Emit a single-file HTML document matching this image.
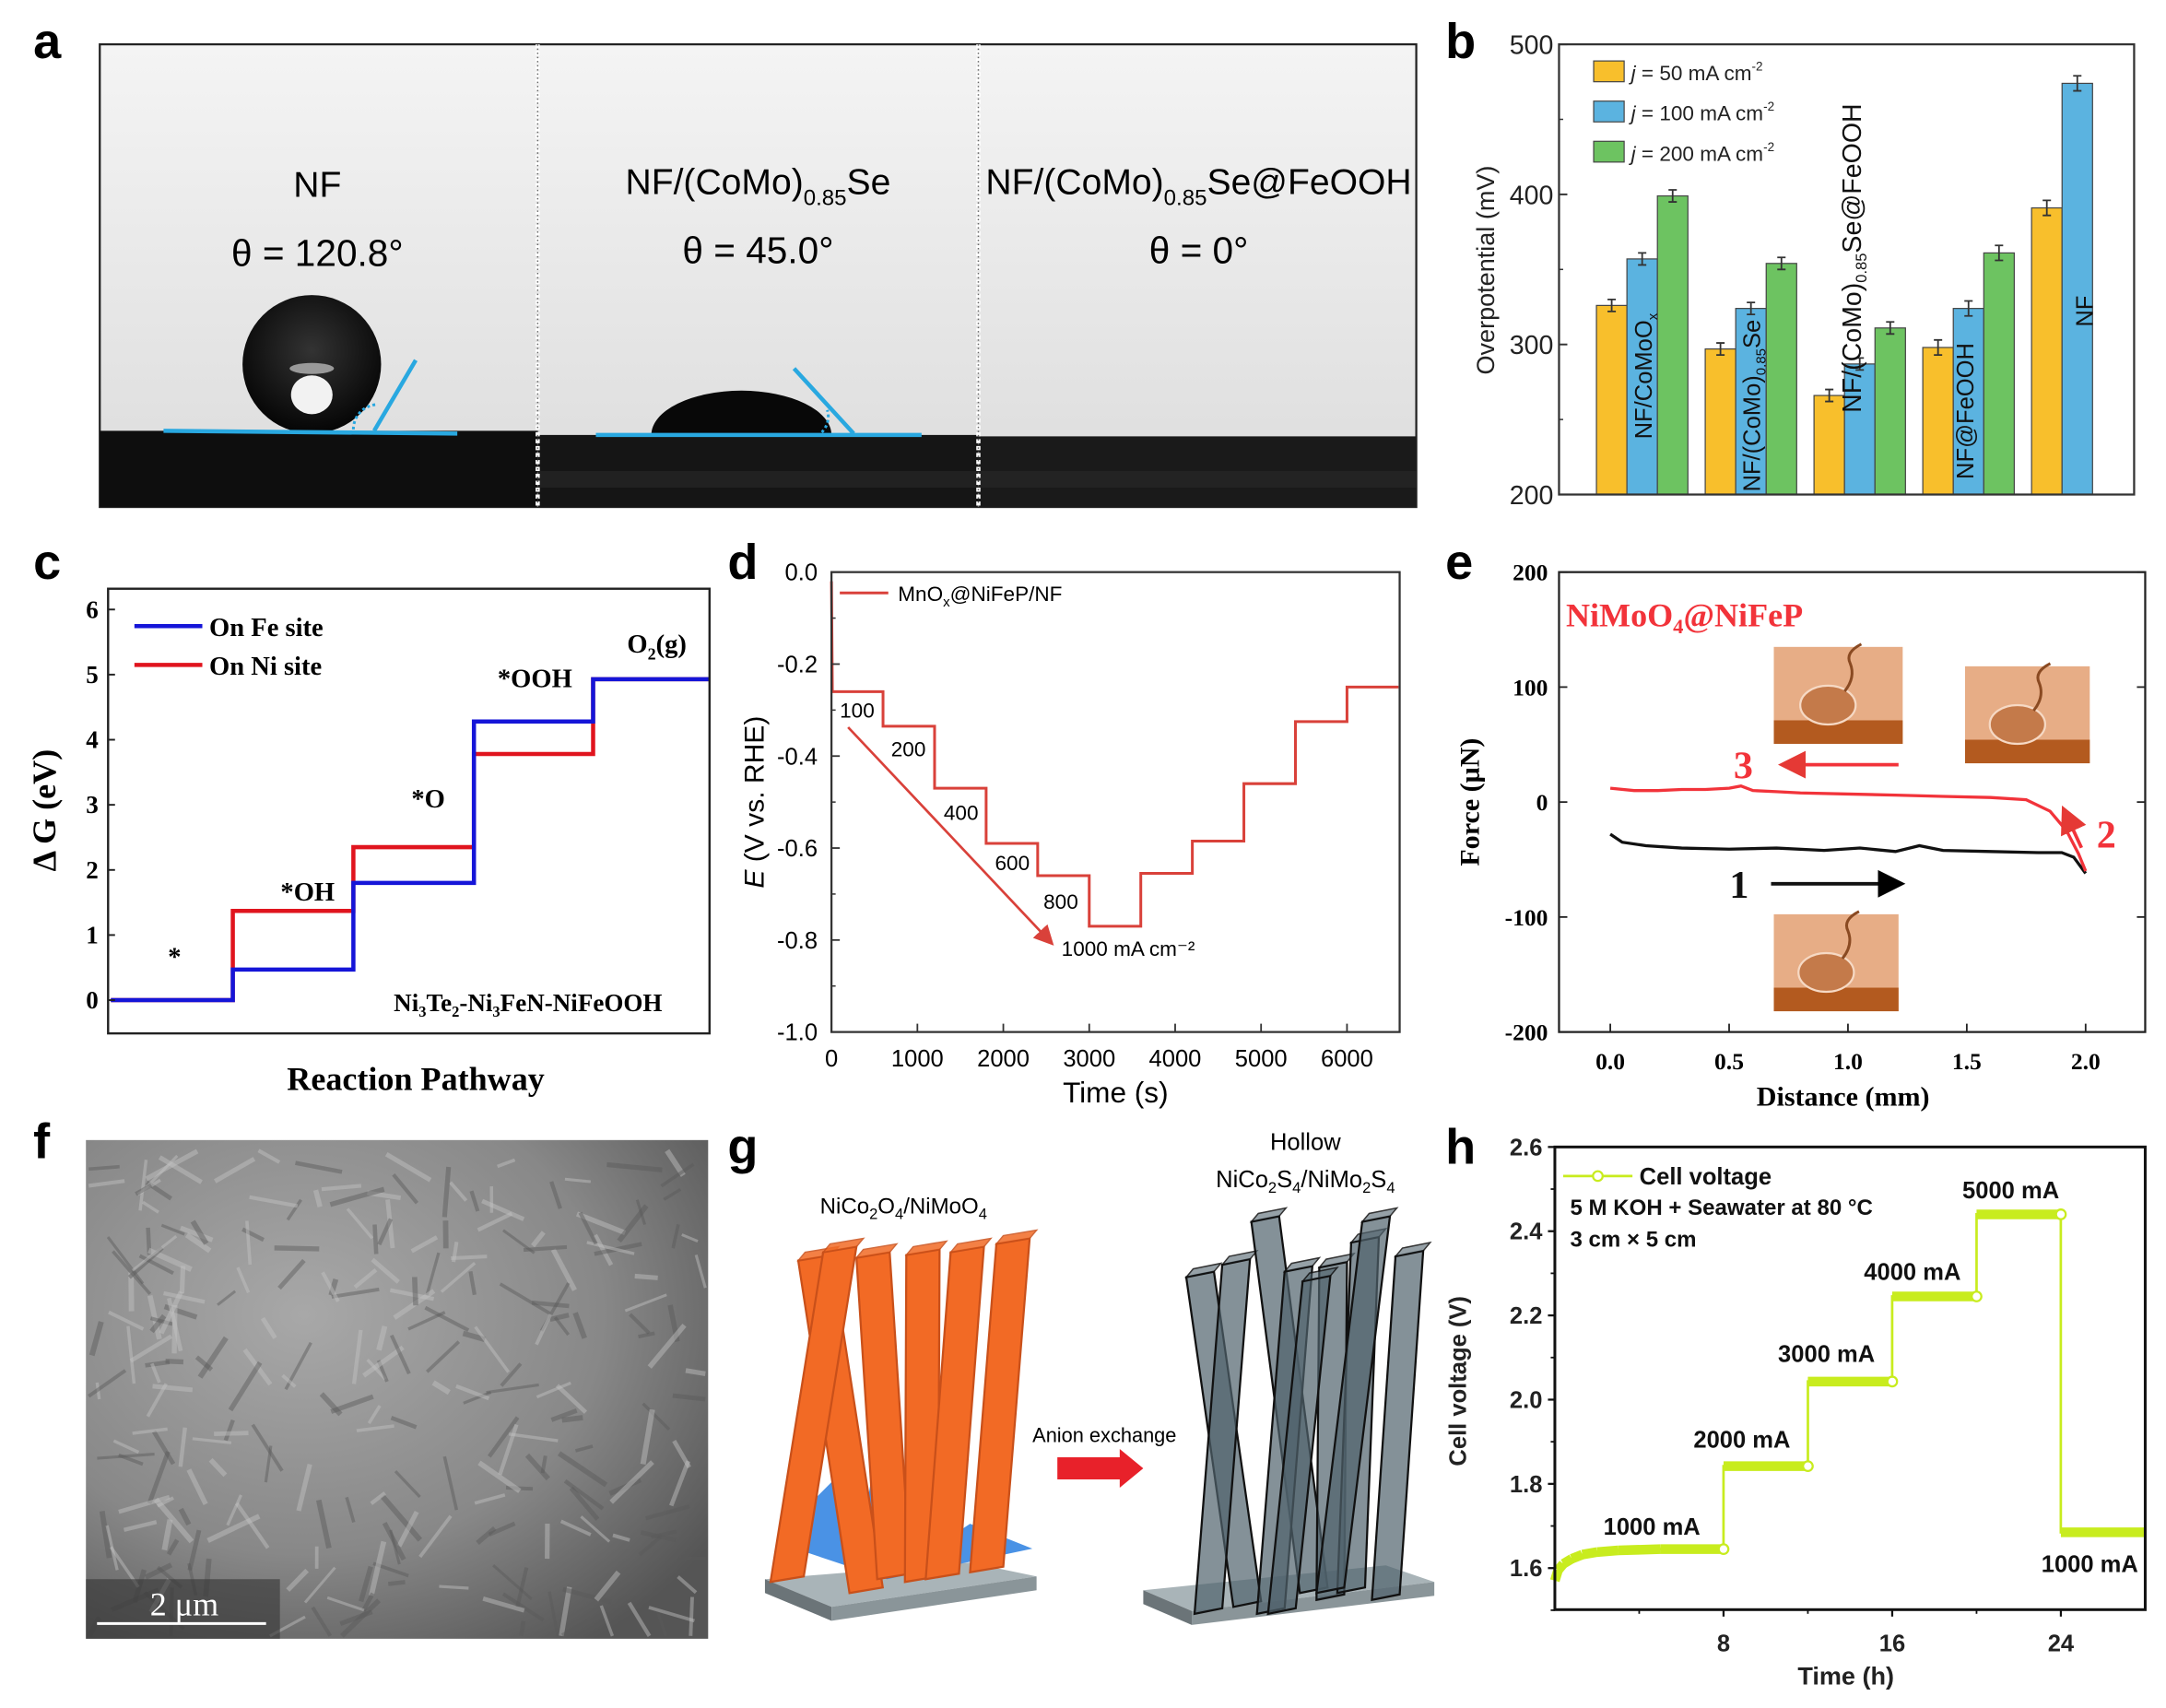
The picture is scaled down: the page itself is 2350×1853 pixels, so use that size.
<!DOCTYPE html>
<html><head><meta charset="utf-8">
<style>
html,body{margin:0;padding:0;background:#fff;}
svg{display:block;}
text{font-family:"Liberation Sans",sans-serif;}
.serif{font-family:"Liberation Serif",serif;}
.pl{font-family:"Liberation Sans",sans-serif;font-weight:bold;font-size:36px;}
</style></head>
<body>
<svg id="fig" xmlns="http://www.w3.org/2000/svg" width="2350" height="1853" viewBox="0 0 1563 1233" preserveAspectRatio="none">
<defs>
<linearGradient id="bgA" x1="0" y1="0" x2="0" y2="1"><stop offset="0" stop-color="#f4f4f4"/><stop offset="1" stop-color="#dcdcdc"/></linearGradient>
<radialGradient id="semG" cx="0.35" cy="0.35" r="0.8"><stop offset="0" stop-color="#a8a8a8"/><stop offset="0.6" stop-color="#888"/><stop offset="1" stop-color="#555"/></radialGradient>
<radialGradient id="dropG" cx="0.5" cy="0.4" r="0.6"><stop offset="0" stop-color="#333"/><stop offset="1" stop-color="#050505"/></radialGradient>
<marker id="arrR" markerWidth="8" markerHeight="8" refX="6" refY="4" orient="auto"><path d="M0,0 L8,4 L0,8 Z" fill="#e53935"/></marker>
<marker id="arrK" markerWidth="8" markerHeight="8" refX="6" refY="4" orient="auto"><path d="M0,0 L8,4 L0,8 Z" fill="#000"/></marker>
<marker id="arrD" markerWidth="8" markerHeight="8" refX="6" refY="4" orient="auto"><path d="M0,0 L8,4 L0,8 Z" fill="#d9413a"/></marker>
</defs>

<text class="pl" x="24" y="42">a</text>
<text class="pl" x="1043" y="42">b</text>
<text class="pl" x="24" y="418">c</text>
<text class="pl" x="525" y="418">d</text>
<text class="pl" x="1043" y="418">e</text>
<text class="pl" x="24" y="836">f</text>
<text class="pl" x="525" y="840">g</text>
<text class="pl" x="1043" y="840">h</text>

<g>
<rect x="72" y="32" width="950" height="334" fill="url(#bgA)" stroke="#222" stroke-width="1.5"/>
<rect x="72" y="311" width="316" height="55" fill="#0e0e0e"/>
<rect x="388" y="314" width="318" height="52" fill="#151515"/>
<rect x="706" y="315" width="316" height="51" fill="#1a1a1a"/>
<rect x="388" y="340" width="634" height="12" fill="#2a2a2a" opacity="0.6"/>
<line x1="388" y1="32" x2="388" y2="366" stroke="#fff" stroke-width="3" stroke-dasharray="3,2"/>
<line x1="388" y1="32" x2="388" y2="366" stroke="#666" stroke-width="1" stroke-dasharray="1,2"/>
<line x1="706" y1="32" x2="706" y2="366" stroke="#fff" stroke-width="3" stroke-dasharray="3,2"/>
<line x1="706" y1="32" x2="706" y2="366" stroke="#666" stroke-width="1" stroke-dasharray="1,2"/>
<circle cx="225" cy="263" r="50" fill="url(#dropG)"/>
<ellipse cx="225" cy="285" rx="15" ry="14" fill="#f2f2f2"/>
<ellipse cx="225" cy="266" rx="16" ry="4" fill="#999"/>
<line x1="118" y1="311" x2="330" y2="313" stroke="#29a8e0" stroke-width="3"/>
<line x1="270" y1="311" x2="300" y2="260" stroke="#29a8e0" stroke-width="3"/>
<path d="M255,310 A18,18 0 0 1 272,292" fill="none" stroke="#29a8e0" stroke-width="2" stroke-dasharray="2,2"/>
<path d="M470,314 A65,32 0 0 1 600,314 Z" fill="#080808"/>
<line x1="430" y1="314" x2="665" y2="314" stroke="#29a8e0" stroke-width="3"/>
<line x1="573" y1="266" x2="616" y2="313" stroke="#29a8e0" stroke-width="3"/>
<path d="M593,312 A16,16 0 0 0 597,296" fill="none" stroke="#29a8e0" stroke-width="2" stroke-dasharray="2,2"/>
<text x="229" y="142" font-size="26" text-anchor="middle">NF</text>
<text x="229" y="192" font-size="27" text-anchor="middle">θ = 120.8°</text>
<text x="547" y="140" font-size="26" text-anchor="middle">NF/(CoMo)<tspan font-size="16" dy="8">0.85</tspan><tspan dy="-8">Se</tspan></text>
<text x="547" y="190" font-size="27" text-anchor="middle">θ = 45.0°</text>
<text x="865" y="140" font-size="26" text-anchor="middle">NF/(CoMo)<tspan font-size="16" dy="8">0.85</tspan><tspan dy="-8">Se@FeOOH</tspan></text>
<text x="865" y="190" font-size="27" text-anchor="middle">θ = 0°</text>
</g>

<g id="pb"></g>
<g id="pc"></g>
<g id="pd"></g>
<g id="pe"></g>

<g id="pf">
<rect x="62" y="823" width="449" height="360" fill="url(#semG)"/>
</g>

<g id="pg">
<text x="652" y="876" font-size="16" text-anchor="middle">NiCo<tspan font-size="11" dy="4">2</tspan><tspan dy="-4">O</tspan><tspan font-size="11" dy="4">4</tspan><tspan dy="-4">/NiMoO</tspan><tspan font-size="11" dy="4">4</tspan></text>
<text x="942" y="830" font-size="17" text-anchor="middle">Hollow</text>
<text x="942" y="857" font-size="17" text-anchor="middle">NiCo<tspan font-size="11" dy="4">2</tspan><tspan dy="-4">S</tspan><tspan font-size="11" dy="4">4</tspan><tspan dy="-4">/NiMo</tspan><tspan font-size="11" dy="4">2</tspan><tspan dy="-4">S</tspan><tspan font-size="11" dy="4">4</tspan></text>
<polygon points="552,1140 700,1128 748,1138 600,1160" fill="#a9b4b8"/>
<polygon points="552,1140 600,1160 600,1170 552,1150" fill="#6b7478"/>
<polygon points="600,1160 748,1138 748,1148 600,1170" fill="#8a9599"/>
<polygon points="825,1148 1000,1130 1035,1142 860,1163" fill="#a9b4b8"/>
<polygon points="825,1148 860,1163 860,1173 825,1158" fill="#6b7478"/>
<polygon points="860,1163 1035,1142 1035,1152 860,1173" fill="#8a9599"/>
<polygon points="575,1095 610,1060 620,1120 640,1000 650,1110 680,1040 670,1120 700,1100 745,1118 640,1140 580,1120" fill="#2a7fe0" opacity="0.85"/>
<text x="797" y="1041" font-size="14.5" text-anchor="middle">Anion exchange</text>
<polygon points="763,1052 808,1052 808,1046 825,1060 808,1074 808,1068 763,1068" fill="#e8212a"/>
</g>

<g id="ph"></g>
</svg>

<script>
var NS='http://www.w3.org/2000/svg';
function mk(parent,tag,attrs,txt){var e=document.createElementNS(NS,tag);for(var k in attrs)e.setAttribute(k,attrs[k]);if(txt!==undefined)e.textContent=txt;parent.appendChild(e);return e;}

/* ===== Panel b data ===== */
var bGroups=['NF/CoMoOx','NF/(CoMo)0.85Se','NF/(CoMo)0.85Se@FeOOH','NF@FeOOH','NF'];
var b50=[326,297,266,298,391];
var b100=[357,324,287,324,474];
var b200=[399,354,311,361,null];
var bErr=[4,4,4,5,5];
var bTicks=[200,300,400,500];
var bSeriesNames=['j = 50 mA cm-2','j = 100 mA cm-2','j = 200 mA cm-2'];

/* ===== Panel c data ===== */
var cSteps=['*','*OH','*O','*OOH','O2(g)'];
var cFe=[0,0.47,1.8,4.28,4.93];
var cNi=[0,1.37,2.35,3.78,4.93];
var cTicks=[0,1,2,3,4,5,6];

/* ===== Panel d data ===== */
var dTimes=[0,600,1200,1800,2400,3000,3600,4200,4800,5400,6000,6600];
var dPotential=[-0.26,-0.335,-0.47,-0.59,-0.66,-0.77,-0.655,-0.585,-0.46,-0.325,-0.25];
var dXTicks=[0,1000,2000,3000,4000,5000,6000];
var dYTicks=[0,-0.2,-0.4,-0.6,-0.8,-1.0];
var dCurrents=['100','200','400','600','800','1000 mA cm⁻²'];

/* ===== Panel e data ===== */
var eDistRed=[0,0.1,0.2,0.3,0.4,0.5,0.55,0.6,0.7,0.8,1.0,1.2,1.4,1.6,1.75,1.85,1.92,1.97,2.0];
var eForceRed=[12,10,10,11,11,12,14,10,9,8,7,6,5,4,2,-8,-25,-45,-60];
var eDistBlack=[0,0.05,0.15,0.3,0.5,0.7,0.9,1.05,1.2,1.3,1.4,1.6,1.8,1.9,1.95,2.0];
var eForceBlack=[-28,-35,-38,-40,-41,-40,-42,-40,-43,-38,-42,-43,-44,-44,-48,-62];
var eXTicks=[0,0.5,1.0,1.5,2.0];
var eYTicks=[200,100,0,-100,-200];

/* ===== Panel h data ===== */
var hTime=[0,0.15,0.4,0.8,1.3,2,3,5,8,8,12,12,16,16,20,20,24,24,28];
var hVolt=[1.57,1.595,1.61,1.622,1.632,1.638,1.642,1.645,1.645,1.842,1.842,2.043,2.043,2.245,2.245,2.44,2.44,1.685,1.685];
var hYTicks=[1.6,1.8,2.0,2.2,2.4,2.6];
var hXTicks=[8,16,24];
var hCurrents=['1000 mA','2000 mA','3000 mA','4000 mA','5000 mA','1000 mA'];

/* ---------- Panel b ---------- */
(function(){
var g=document.getElementById('pb');
var X0=1125,X1=1540,Y0=357,Y1=32;
function y(v){return Y0-(v-200)/300*(Y0-Y1);}
var cols=['#f8bf2c','#5bb3e0','#6dc361'];
var series=[b50,b100,b200];
var bw=22;
for(var i=0;i<bGroups.length;i++){
  var gx=1152+i*78.5;
  for(var s=0;s<3;s++){
    var v=series[s][i]; if(v===null) continue;
    var r=mk(g,'rect',{x:gx+s*bw,y:y(v),width:bw,height:Y0-y(v),fill:cols[s],stroke:'#444','stroke-width':0.8});
    
    
    var cx=gx+s*bw+bw/2,e=bErr[i];
    var eb=mk(g,'path',{d:'M'+cx+','+y(v+e)+'V'+y(v-e)+'M'+(cx-3)+','+y(v+e)+'h6M'+(cx-3)+','+y(v-e)+'h6',stroke:'#333','stroke-width':1.2,fill:'none'});
    
    
  }
}
var fr=mk(g,'rect',{x:X0,y:Y1,width:X1-X0,height:Y0-Y1,fill:'none',stroke:'#333','stroke-width':1.5});


bTicks.forEach(function(t){
  var tl=mk(g,'text',{x:1121,y:y(t)+7,'font-size':19,'text-anchor':'end',fill:'#222'},String(t));
  
  
  mk(g,'line',{x1:X0,x2:X0+6,y1:y(t),y2:y(t),stroke:'#333','stroke-width':1.3});
  if(t<500) mk(g,'line',{x1:X0,x2:X0+3,y1:y(t+50),y2:y(t+50),stroke:'#333','stroke-width':1});
});
var yt=mk(g,'text',{x:0,y:0,'font-size':18,'text-anchor':'middle',transform:'translate(1078,195) rotate(-90)',fill:'#222'},'Overpotential (mV)');


var supers=['50','100','200'];
for(var s=0;s<3;s++){
  var ly=44+s*29;
  var lr=mk(g,'rect',{x:1150,y:ly,width:22,height:15,fill:cols[s],stroke:'#444','stroke-width':0.8});
  
  
  var lt=mk(g,'text',{x:1177,y:ly+14,'font-size':15,fill:'#222'});
  
  
  mk(lt,'tspan',{'font-style':'italic'},'j');
  mk(lt,'tspan',{},' = '+supers[s]+' mA cm');
  mk(lt,'tspan',{'font-size':9,dy:-7},'-2');
}
function rotLabel(x0,y0,fs,parts){
  var t=mk(g,'text',{x:0,y:0,'font-size':fs,transform:'translate('+x0+','+y0+') rotate(-90)',fill:'#111'});
  
  
  parts.forEach(function(p){mk(t,'tspan',p[1],p[0]);});
}
rotLabel(1192,317,17,[['NF/CoMoO',{}],['x',{'font-size':10,dy:4}]]);
rotLabel(1270,355,17,[['NF/(CoMo)',{}],['0.85',{'font-size':10,dy:4}],['Se',{dy:-4}]]);
rotLabel(1343,298,19,[['NF/(CoMo)',{}],['0.85',{'font-size':11,dy:4}],['Se@FeOOH',{dy:-4}]]);
rotLabel(1424,346,17,[['NF@FeOOH',{}]]);
rotLabel(1510,236,17,[['NF',{}]]);
})();

/* ---------- Panel c ---------- */
(function(){
var g=document.getElementById('pc');
var X0=78,X1=512,Y0=746,Y1=425;
function y(v){return 722-v*47;}
var xs=[80,168,255,342,428,512];
function steps(arr,col,name){
  var d='M'+xs[0]+','+y(arr[0]);
  for(var i=0;i<arr.length;i++){d+=' H'+xs[i+1]; if(i+1<arr.length) d+=' V'+y(arr[i+1]);}
  var p=mk(g,'path',{d:d,fill:'none',stroke:col,'stroke-width':3});
  
  
}
steps(cNi,'#e0141e','ni-site-line');
steps(cFe,'#1515d8','fe-site-line');
var fr=mk(g,'rect',{x:X0,y:Y1,width:X1-X0,height:Y0-Y1,fill:'none',stroke:'#222','stroke-width':1.6});


cTicks.forEach(function(t){
  var tl=mk(g,'text',{x:71,y:y(t)+6,'font-size':18,'text-anchor':'end','font-weight':'bold','class':'serif'},String(t));
  
  
  mk(g,'line',{x1:X0,x2:X0+5,y1:y(t),y2:y(t),stroke:'#222','stroke-width':1.3});
});
var lbl=[['*',126,697],['*OH',222,650],['*O',309,583],['*OOH',386,496]];
lbl.forEach(function(l){var t=mk(g,'text',{x:l[1],y:l[2],'font-size':19,'font-weight':'bold','text-anchor':'middle','class':'serif'},l[0]);

});
var o2=mk(g,'text',{x:474,y:471,'font-size':19,'font-weight':'bold','text-anchor':'middle','class':'serif'});


mk(o2,'tspan',{},'O');mk(o2,'tspan',{'font-size':12,dy:5},'2');mk(o2,'tspan',{dy:-5},'(g)');
var cat=mk(g,'text',{x:381,y:730,'font-size':18,'font-weight':'bold','text-anchor':'middle','class':'serif'});


[['Ni',{}],['3',{'font-size':11,dy:4}],['Te',{dy:-4}],['2',{'font-size':11,dy:4}],['-Ni',{dy:-4}],['3',{'font-size':11,dy:4}],['FeN-NiFeOOH',{dy:-4}]].forEach(function(p){mk(cat,'tspan',p[1],p[0]);});
var xt=mk(g,'text',{x:300,y:787,'font-size':24,'font-weight':'bold','text-anchor':'middle','class':'serif'},'Reaction Pathway');


var ytc=mk(g,'text',{x:0,y:0,'font-size':24,'font-weight':'bold','text-anchor':'middle','class':'serif',transform:'translate(40,585) rotate(-90)'},'Δ G (eV)');


[['On Fe site','#1515d8',452],['On Ni site','#e0141e',480]].forEach(function(l){
  mk(g,'line',{x1:97,x2:146,y1:l[2],y2:l[2],stroke:l[1],'stroke-width':3});
  var t=mk(g,'text',{x:151,y:l[2]+7,'font-size':19,'font-weight':'bold','class':'serif'},l[0]);
  
  
});
})();

/* ---------- Panel d ---------- */
(function(){
var g=document.getElementById('pd');
var X0=600,X1=1010,Y0=745,Y1=413;
function x(t){return X0+t*(972-600)/6000;}
function y(v){return Y1+(-v)*(Y0-Y1);}
var d='M'+x(0)+','+y(-0.02)+' L'+x(10)+','+y(dPotential[0]);
for(var i=0;i<dPotential.length;i++){
  d+=' L'+x(dTimes[i])+','+y(dPotential[i])+' L'+x(dTimes[i+1])+','+y(dPotential[i]);
  if(i+1<dPotential.length) d+=' L'+x(dTimes[i+1])+','+y(dPotential[i+1]);
}
var p=mk(g,'path',{d:d,fill:'none',stroke:'#d9413a','stroke-width':2});


var fr=mk(g,'rect',{x:X0,y:Y1,width:X1-X0,height:Y0-Y1,fill:'none',stroke:'#333','stroke-width':1.5});


dYTicks.forEach(function(t){
  var tl=mk(g,'text',{x:590,y:y(t)+6,'font-size':17,'text-anchor':'end'},t.toFixed(1));
  
  
  mk(g,'line',{x1:X0,x2:X0+6,y1:y(t),y2:y(t),stroke:'#333','stroke-width':1.2});
  if(t>-1) mk(g,'line',{x1:X0,x2:X0+3,y1:y(t-0.1),y2:y(t-0.1),stroke:'#333'});
});
dXTicks.forEach(function(t){
  var tl=mk(g,'text',{x:x(t),y:770,'font-size':17,'text-anchor':'middle'},String(t));
  
  
  mk(g,'line',{x1:x(t),x2:x(t),y1:Y0,y2:Y0-6,stroke:'#333','stroke-width':1.2});
});
var xt=mk(g,'text',{x:805,y:796,'font-size':21,'text-anchor':'middle'},'Time (s)');


var yt=mk(g,'text',{x:0,y:0,'font-size':20,'text-anchor':'middle',transform:'translate(551,579) rotate(-90)'});


mk(yt,'tspan',{'font-style':'italic'},'E');mk(yt,'tspan',{},' (V vs. RHE)');
mk(g,'line',{x1:606,x2:641,y1:428,y2:428,stroke:'#d9413a','stroke-width':2});
var lg=mk(g,'text',{x:648,y:434,'font-size':15});


mk(lg,'tspan',{},'MnO');mk(lg,'tspan',{'font-size':10,dy:4},'x');mk(lg,'tspan',{dy:-4},'@NiFeP/NF');
var pos=[[606,518],[643,546],[681,592],[718,628],[753,656],[766,690]];
dCurrents.forEach(function(c,i){
  var t=mk(g,'text',{x:pos[i][0],y:pos[i][1],'font-size':15},c);
  
  
});
var ar=mk(g,'line',{x1:612,y1:525,x2:758,y2:680,stroke:'#d9413a','stroke-width':1.8,'marker-end':'url(#arrD)'});


})();

/* ---------- Panel e ---------- */
(function(){
var g=document.getElementById('pe');
var X0=1125,X1=1548,Y0=745,Y1=413;
function x(v){return 1162+v*171.5;}
function y(v){return 579-v*0.83;}
function line(xs,ys,col,name){
  var d='';for(var i=0;i<xs.length;i++) d+=(i?'L':'M')+x(xs[i]).toFixed(1)+','+y(ys[i]).toFixed(1);
  var p=mk(g,'path',{d:d,fill:'none',stroke:col,'stroke-width':2.2});
  
  
}
line(eDistBlack,eForceBlack,'#111','approach-curve');
line(eDistRed,eForceRed,'#f2333a','retract-curve');
var fr=mk(g,'rect',{x:X0,y:Y1,width:X1-X0,height:Y0-Y1,fill:'none',stroke:'#222','stroke-width':1.5});


eYTicks.forEach(function(t){
  var tl=mk(g,'text',{x:1117,y:y(t)+6,'font-size':17,'font-weight':'bold','text-anchor':'end','class':'serif'},String(t));
  
  
  mk(g,'line',{x1:X0,x2:X0+6,y1:y(t),y2:y(t),stroke:'#222','stroke-width':1.2});
  mk(g,'line',{x1:X1,x2:X1-6,y1:y(t),y2:y(t),stroke:'#222','stroke-width':1.2});
});
eXTicks.forEach(function(t){
  var tl=mk(g,'text',{x:x(t),y:772,'font-size':17,'font-weight':'bold','text-anchor':'middle','class':'serif'},t.toFixed(1));
  
  
  mk(g,'line',{x1:x(t),x2:x(t),y1:Y0,y2:Y0-6,stroke:'#222','stroke-width':1.2});
});
var xt=mk(g,'text',{x:1330,y:798,'font-size':20,'font-weight':'bold','text-anchor':'middle','class':'serif'},'Distance (mm)');


var yt=mk(g,'text',{x:0,y:0,'font-size':20,'font-weight':'bold','text-anchor':'middle','class':'serif',transform:'translate(1067,579) rotate(-90)'},'Force (μN)');


var ti=mk(g,'text',{x:1130,y:452,'font-size':24,'font-weight':'bold',fill:'#f2333a','class':'serif'});


mk(ti,'tspan',{},'NiMoO');mk(ti,'tspan',{'font-size':15,dy:5},'4');mk(ti,'tspan',{dy:-5},'@NiFeP');
[[1280,467,93,70],[1418,481,90,70],[1280,660,90,70]].forEach(function(b){
  var r=mk(g,'rect',{x:b[0],y:b[1],width:b[2],height:b[3],fill:'#e7ad86'});
  
  
  mk(g,'rect',{x:b[0],y:b[1]+b[3]-17,width:b[2],height:17,fill:'#b35a1f'});
  mk(g,'ellipse',{cx:b[0]+b[2]*0.42,cy:b[1]+b[3]-28,rx:20,ry:14,fill:'#c47a4a',stroke:'#f6d9c4','stroke-width':1.5});
  mk(g,'path',{d:'M'+(b[0]+b[2]*0.55)+','+(b[1]+b[3]-38)+' q8,-10 4,-20 q-4,-8 8,-14',fill:'none',stroke:'#8a4a22','stroke-width':2});
});
[['3',1258,562,'#f2333a'],['2',1520,612,'#f2333a'],['1',1255,648,'#111']].forEach(function(l){
  var t=mk(g,'text',{x:l[1],y:l[2],'font-size':28,'font-weight':'bold',fill:l[3],'text-anchor':'middle','class':'serif'},l[0]);
  
  
});
var a1=mk(g,'line',{x1:1370,y1:552,x2:1288,y2:552,stroke:'#f2333a','stroke-width':2.5,'marker-end':'url(#arrR)'});


var a2=mk(g,'line',{x1:1502,y1:612,x2:1490,y2:586,stroke:'#f2333a','stroke-width':2.5,'marker-end':'url(#arrR)'});


var a3=mk(g,'line',{x1:1278,y1:638,x2:1370,y2:638,stroke:'#111','stroke-width':2.5,'marker-end':'url(#arrK)'});


})();

/* ---------- Panel f texture ---------- */
(function(){
var g=document.getElementById('pf');
var seed=7;function rnd(){seed=(seed*9301+49297)%233280;return seed/233280;}
for(var i=0;i<260;i++){
  var cx=70+rnd()*433,cy=830+rnd()*345,a=rnd()*Math.PI,l=12+rnd()*30;
  var c=rnd()>0.5?'#c4c4c4':'#5a5a5a';
  mk(g,'line',{x1:cx,y1:cy,x2:Math.min(509,Math.max(64,cx+Math.cos(a)*l)),y2:Math.min(1181,cy+Math.sin(a)*l),stroke:c,'stroke-width':2+rnd()*2,opacity:0.45});
}
mk(g,'rect',{x:62,y:1140,width:140,height:43,fill:'#333',opacity:0.6});
var sb=mk(g,'line',{x1:70,x2:192,y1:1172,y2:1172,stroke:'#fff','stroke-width':2});


var st=mk(g,'text',{x:133,y:1166,'font-size':24,fill:'#fff','text-anchor':'middle','class':'serif'},'2 μm');


})();

/* ---------- Panel g rods ---------- */
(function(){
var g=document.getElementById('pg');
function rod(t,b,w,fill,stroke,name){
  var dx=w/2;
  var p=mk(g,'polygon',{points:(t[0]-dx)+','+t[1]+' '+(t[0]+dx)+','+(t[1]-4)+' '+(b[0]+dx)+','+(b[1]-4)+' '+(b[0]-dx)+','+b[1],fill:fill,stroke:stroke,'stroke-width':1.5});
  
  
  mk(g,'polygon',{points:(t[0]-dx)+','+t[1]+' '+(t[0]-dx+5)+','+(t[1]-6)+' '+(t[0]+dx+5)+','+(t[1]-10)+' '+(t[0]+dx)+','+(t[1]-4),fill:fill,stroke:stroke,'stroke-width':1,opacity:0.85});
}
[[[588,910],[625,1150]],[[606,904],[568,1142]],[[630,908],[645,1140]],[[666,906],[665,1142]],[[698,904],[680,1140]],[[731,898],[712,1135]]].forEach(function(r){rod(r[0],r[1],24,'#f26a25','#c9501a','oxide-rod');});
[[[866,922],[900,1160]],[[892,913],[872,1165]],[[913,882],[948,1150]],[[937,918],[917,1165]],[[962,915],[960,1155]],[[985,897],[975,1150]],[[993,882],[960,1150]],[[1017,907],[1000,1155]],[[950,925],[925,1165]]].forEach(function(r){rod(r[0],r[1],20,'rgba(80,98,108,0.7)','#111','sulfide-rod');});
})();

/* ---------- Panel h ---------- */
(function(){
var g=document.getElementById('ph');
var X0=1122,X1=1548,Y0=1162,Y1=828;
function x(t){return X0+t*(X1-X0)/28;}
function y(v){return 1132-(v-1.6)*304;}
var thin='';
for(var i=0;i<hTime.length;i++){thin+=(i?'L':'M')+x(hTime[i]).toFixed(1)+','+y(hVolt[i]).toFixed(1);}
var pt=mk(g,'path',{d:thin,fill:'none',stroke:'#c8ec1e','stroke-width':1.8});


for(var i=0;i+1<hTime.length;i++){
  if(hVolt[i]===hVolt[i+1]||i<8){
    var s=mk(g,'line',{x1:x(hTime[i]),y1:y(hVolt[i]),x2:x(hTime[i+1]),y2:y(hVolt[i+1]),stroke:'#c8ec1e','stroke-width':7});
    
    
  }
}
[8,10,12,14,16].forEach(function(i){
  var c=mk(g,'circle',{cx:x(hTime[i]),cy:y(hVolt[i]),r:3.5,fill:'#fff',stroke:'#c8ec1e','stroke-width':1.5});
  
  
});
var fr=mk(g,'rect',{x:X0,y:Y1,width:X1-X0,height:Y0-Y1,fill:'none',stroke:'#111','stroke-width':2});


hYTicks.forEach(function(t){
  var tl=mk(g,'text',{x:1113,y:y(t)+6,'font-size':17,'font-weight':'bold','text-anchor':'end',fill:'#222'},t.toFixed(1));
  
  
  mk(g,'line',{x1:X0-5,x2:X0,y1:y(t),y2:y(t),stroke:'#111','stroke-width':1.5});
  mk(g,'line',{x1:X0-3,x2:X0,y1:y(t-0.1),y2:y(t-0.1),stroke:'#111','stroke-width':1.2});
});
hXTicks.forEach(function(t){
  var tl=mk(g,'text',{x:x(t),y:1192,'font-size':17,'font-weight':'bold','text-anchor':'middle',fill:'#222'},String(t));
  
  
  mk(g,'line',{x1:x(t),x2:x(t),y1:Y0,y2:Y0+5,stroke:'#111','stroke-width':1.5});
  mk(g,'line',{x1:x(t-4),x2:x(t-4),y1:Y0,y2:Y0+3,stroke:'#111','stroke-width':1.2});
});
var xt=mk(g,'text',{x:1332,y:1216,'font-size':18,'font-weight':'bold','text-anchor':'middle',fill:'#222'},'Time (h)');


var yt=mk(g,'text',{x:0,y:0,'font-size':17,'font-weight':'bold','text-anchor':'middle',fill:'#222',transform:'translate(1058,997) rotate(-90)'},'Cell voltage (V)');


var lp=[[1192,1108],[1257,1045],[1318,983],[1380,924],[1451,865],[1508,1135]];
hCurrents.forEach(function(c,i){
  var t=mk(g,'text',{x:lp[i][0],y:lp[i][1],'font-size':17,'font-weight':'bold','text-anchor':'middle',fill:'#111'},c);
  
  
});
mk(g,'line',{x1:1128,x2:1178,y1:849,y2:849,stroke:'#c8ec1e','stroke-width':1.8});
mk(g,'circle',{cx:1153,cy:849,r:3.5,fill:'#fff',stroke:'#c8ec1e','stroke-width':1.5});
var l1=mk(g,'text',{x:1183,y:855,'font-size':17,'font-weight':'bold',fill:'#111'},'Cell voltage');


var l2=mk(g,'text',{x:1133,y:877,'font-size':16,'font-weight':'bold',fill:'#111'},'5 M KOH + Seawater at 80 °C');


var l3=mk(g,'text',{x:1133,y:900,'font-size':16,'font-weight':'bold',fill:'#111'},'3 cm × 5 cm');


})();
</script>
</body></html>
